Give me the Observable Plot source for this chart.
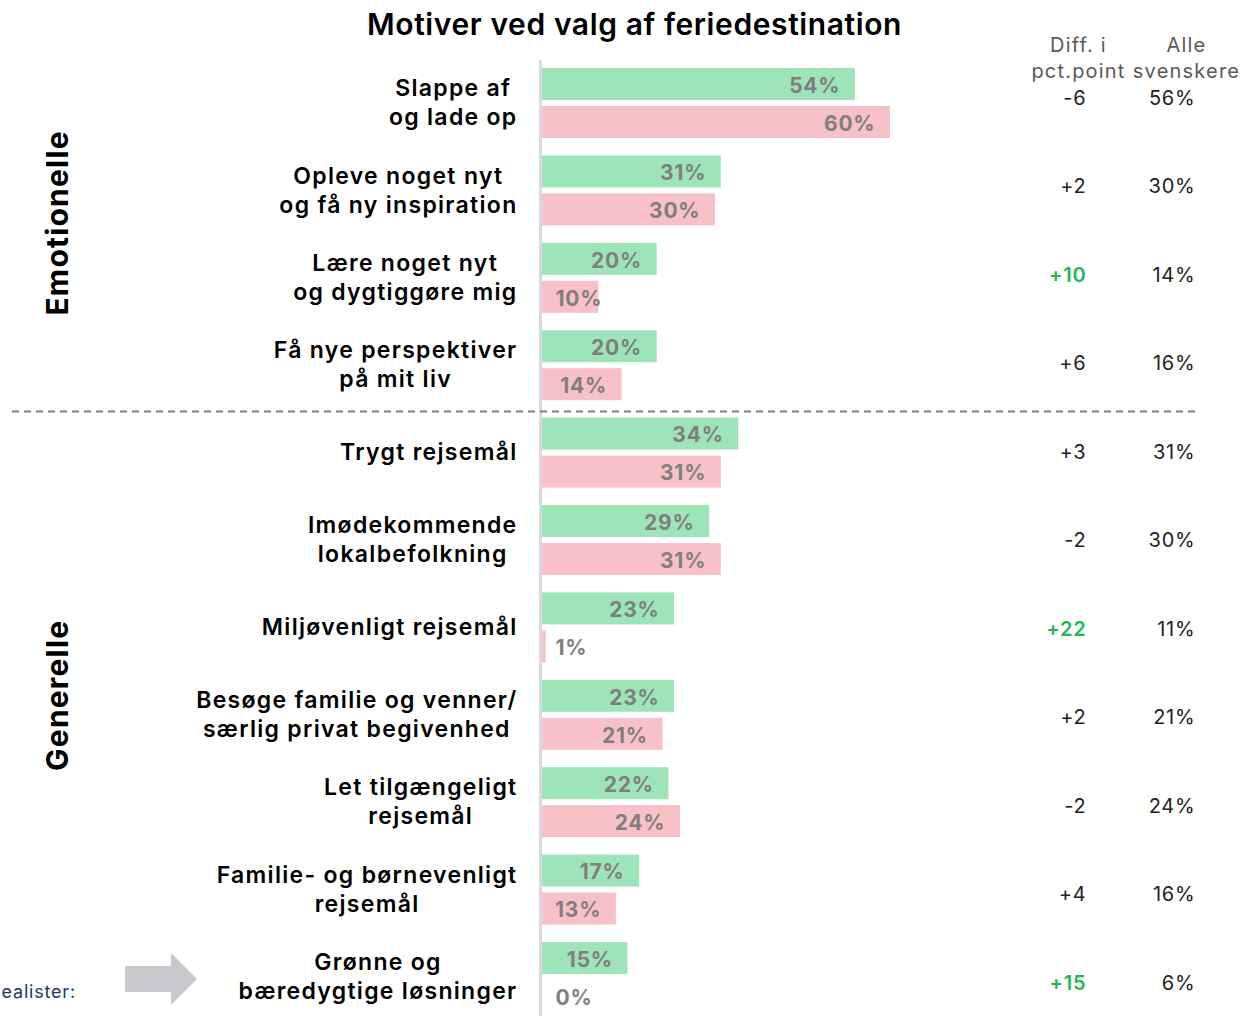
<!DOCTYPE html>
<html>
<head>
<meta charset="utf-8">
<script src="https://cdn.jsdelivr.net/npm/d3@7"></script>
<script src="https://cdn.jsdelivr.net/npm/@observablehq/plot@0.6"></script>
<style>
  html, body { margin: 0; padding: 0; background: #fff; }
  #chart { position: relative; width: 1244px; height: 1016px; overflow: hidden; }
  #chart > svg { position: absolute; left: 0; top: 0; }
  .catlabel text { letter-spacing: 1.3px; }
  .grouplabel text { letter-spacing: 1.2px; }
  .titletext text { letter-spacing: 0.6px; }
  .colhead text { letter-spacing: 1.2px; }
  .colval text { letter-spacing: 0.8px; }
  .vallabel text { letter-spacing: 0.8px; }
  .foot text { letter-spacing: 0.8px; }
</style>
</head>
<body>
<div id="chart"></div>
<script>
// ---- data ----
const categories = [
  "Slappe af og lade op",
  "Opleve noget nyt og få ny inspiration",
  "Lære noget nyt og dygtiggøre mig",
  "Få nye perspektiver på mit liv",
  "Trygt rejsemål",
  "Imødekommende lokalbefolkning",
  "Miljøvenligt rejsemål",
  "Besøge familie og venner/ særlig privat begivenhed",
  "Let tilgængeligt rejsemål",
  "Familie- og børnevenligt rejsemål",
  "Grønne og bæredygtige løsninger"
];
const categoryLabels = [
  "Slappe af\nog lade op",
  "Opleve noget nyt\nog få ny inspiration",
  "Lære noget nyt\nog dygtiggøre mig",
  "Få nye perspektiver\npå mit liv",
  "Trygt rejsemål",
  "Imødekommende\nlokalbefolkning",
  "Miljøvenligt rejsemål",
  "Besøge familie og venner/\nsærlig privat begivenhed",
  "Let tilgængeligt\nrejsemål",
  "Familie- og børnevenligt\nrejsemål",
  "Grønne og\nbæredygtige løsninger"
];
const greenValues = [54, 31, 20, 20, 34, 29, 23, 23, 22, 17, 15];
const pinkValues  = [60, 30, 10, 14, 31, 31, 1, 21, 24, 13, 0];
const diffValues  = [-6, 2, 10, 6, 3, -2, 22, 2, -2, 4, 15];
const alleValues  = [56, 30, 14, 16, 31, 30, 11, 21, 24, 16, 6];
const groupLabels = ["Emotionelle", "Generelle"];
const title = "Motiver ved valg af feriedestination";
const diffHeader = "Diff. i\npct.point";
const alleHeader = "Alle\nsvenskere";
const footLabel = "ealister:";

// ---- table ----
const rows = categories.map((c, i) => ({
  cat: c, label: categoryLabels[i],
  green: greenValues[i], pink: pinkValues[i],
  diff: diffValues[i], alle: alleValues[i]
}));

const FONT = "Inter, 'Noto Sans', sans-serif";
const GREEN = "#9de5b8", PINK = "#f7c1c7", VALGREY = "#7f7f7f";
const big = 12;
const valStyle = { fill: VALGREY, fontSize: 21, fontWeight: 700, className: "vallabel" };
const fmtDiff = d => (d.diff > 0 ? "+" : "") + d.diff;

// main chart: bars, labels, title
const chart = Plot.plot({
  width: 1244,
  height: 1016,
  margin: 0,
  style: { fontFamily: FONT, background: "#fff", overflow: "visible" },
  x: { domain: [0, 60], range: [540, 890], axis: null },
  y: { domain: categories, range: [59.3, 1020.7], padding: 0, round: false, axis: null },
  marks: [
    Plot.barX(rows, { x: "green", y: "cat", fill: GREEN, insetTop: 8.7, insetBottom: 46.7 }),
    Plot.barX(rows, { x: "pink", y: "cat", fill: PINK, insetTop: 46.7, insetBottom: 8.7 }),
    Plot.ruleX([0], { stroke: "#d9d9d9", strokeWidth: 3, insetTop: 60 }),
    Plot.ruleY([categories[4]], { y: d => d, dy: -41.7, stroke: "#808080", strokeWidth: 2,
      strokeDasharray: "7,5", insetLeft: 12, insetRight: 47 }),
    Plot.text(rows.filter(d => d.green >= big), { x: "green", y: "cat", text: d => d.green + "%",
      textAnchor: "end", dx: -15, dy: -17.5, ...valStyle }),
    Plot.text(rows.filter(d => d.green < big), { x: 0, y: "cat", text: d => d.green + "%",
      textAnchor: "start", dx: 15, dy: -17.5, ...valStyle }),
    Plot.text(rows.filter(d => d.pink >= big), { x: "pink", y: "cat", text: d => d.pink + "%",
      textAnchor: "end", dx: -15, dy: 20.5, ...valStyle }),
    Plot.text(rows.filter(d => d.pink < big), { x: 0, y: "cat", text: d => d.pink + "%",
      textAnchor: "start", dx: 15, dy: 20.5, ...valStyle }),
    Plot.text(rows, { x: 0, y: "cat", text: "label", textAnchor: "end", dx: -23, dy: -2,
      fontSize: 23, fontWeight: 600, fill: "#000", lineHeight: 1.26, className: "catlabel" }),
    Plot.text([groupLabels[0]], { y: [categories[1]], text: d => d, frameAnchor: "left", dx: 58, dy: 32,
      textAnchor: "middle", rotate: -90, fontSize: 30, fontWeight: 700, fill: "#000", className: "grouplabel" }),
    Plot.text([groupLabels[1]], { y: [categories[7]], text: d => d, frameAnchor: "left", dx: 58, dy: -20,
      textAnchor: "middle", rotate: -90, fontSize: 30, fontWeight: 700, fill: "#000", className: "grouplabel" }),
    Plot.text([title], { text: d => d, frameAnchor: "top-left", dx: 634, dy: 25, lineAnchor: "middle",
      textAnchor: "middle", fontSize: 30, fontWeight: 600, fill: "#000", className: "titletext" }),
    Plot.text([footLabel], { text: d => d, frameAnchor: "top-left", dx: 1, dy: 992, lineAnchor: "middle",
      textAnchor: "start", fontSize: 18, fill: "#1f3864", className: "foot" })
  ]
});

// right-hand table columns (own row spacing)
const table = Plot.plot({
  width: 1244,
  height: 1016,
  margin: 0,
  style: { fontFamily: FONT, background: "transparent", overflow: "visible" },
  y: { type: "point", domain: categories, range: [98, 983], padding: 0, round: false, axis: null },
  marks: [
    Plot.text(rows.filter(d => d.diff < 10), { y: "cat", text: fmtDiff,
      frameAnchor: "left", dx: 1086, textAnchor: "end", fontSize: 20, fill: "#222", className: "colval" }),
    Plot.text(rows.filter(d => d.diff >= 10), { y: "cat", text: fmtDiff,
      frameAnchor: "left", dx: 1086, textAnchor: "end", fontSize: 20, fontWeight: 600, fill: "#1db954", className: "colval" }),
    Plot.text(rows, { y: "cat", text: d => d.alle + "%",
      frameAnchor: "left", dx: 1195, textAnchor: "end", fontSize: 20, fill: "#222", className: "colval" }),
    Plot.text([diffHeader], { text: d => d, frameAnchor: "top-left", dx: 1078, dy: 56, lineAnchor: "middle",
      textAnchor: "middle", lineHeight: 1.3, fontSize: 20, fill: "#595959", className: "colhead" }),
    Plot.text([alleHeader], { text: d => d, frameAnchor: "top-left", dx: 1186, dy: 56, lineAnchor: "middle",
      textAnchor: "middle", lineHeight: 1.3, fontSize: 20, fill: "#595959", className: "colhead" })
  ]
});

const root = document.getElementById("chart");
root.appendChild(chart);
root.appendChild(table);

// center-align the lines of each category label while keeping its right edge fixed
d3.select(chart).selectAll(".catlabel text").each(function () {
  const bb = this.getBBox();
  const t = this.getAttribute("transform") || "";
  this.setAttribute("text-anchor", "middle");
  this.setAttribute("transform", t + ` translate(${-bb.width / 2},0)`);
});

// decorative arrow at bottom left
d3.select(chart).append("path")
  .attr("d", "M125,966 H171 V953 L197,979 L171,1005 V992 H125 Z")
  .attr("fill", "#c8c9cc");
</script>
</body>
</html>
